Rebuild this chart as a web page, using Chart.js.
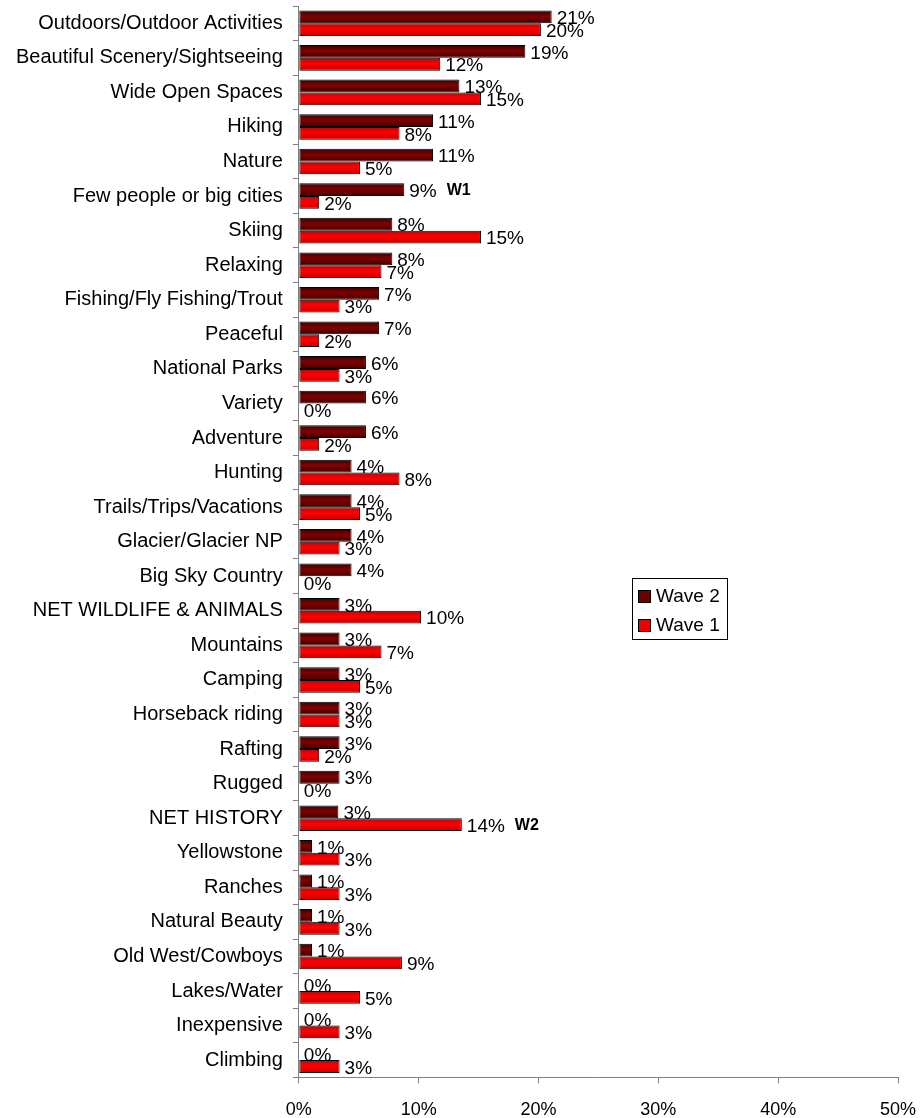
<!DOCTYPE html>
<html>
<head>
<meta charset="utf-8">
<script src="https://cdn.jsdelivr.net/npm/chart.js@4.4.0/dist/chart.umd.min.js"></script>
<style>
  html, body { margin: 0; padding: 0; background: #fff; }
  #wrap { position: relative; width: 920px; height: 1118px; }
</style>
</head>
<body>
<div id="wrap"><canvas id="chart"></canvas></div>
<script>
// categories, top to bottom
const categories = [
    "Outdoors/Outdoor Activities", "Beautiful Scenery/Sightseeing", "Wide Open Spaces", "Hiking",
    "Nature", "Few people or big cities", "Skiing", "Relaxing", "Fishing/Fly Fishing/Trout",
    "Peaceful", "National Parks", "Variety", "Adventure", "Hunting", "Trails/Trips/Vacations",
    "Glacier/Glacier NP", "Big Sky Country", "NET WILDLIFE & ANIMALS", "Mountains", "Camping",
    "Horseback riding", "Rafting", "Rugged", "NET HISTORY", "Yellowstone", "Ranches",
    "Natural Beauty", "Old West/Cowboys", "Lakes/Water", "Inexpensive", "Climbing"
];
// percent values
const wave2 = [21.1, 18.9, 13.4, 11.2, 11.2, 8.8, 7.8, 7.8, 6.7, 6.7, 5.6, 5.6, 5.6, 4.4, 4.4,
    4.4, 4.4, 3.4, 3.4, 3.4, 3.4, 3.4, 3.4, 3.3, 1.1, 1.1, 1.1, 1.1, 0, 0, 0];
const wave1 = [20.2, 11.8, 15.2, 8.4, 5.1, 1.7, 15.2, 6.9, 3.4, 1.7, 3.4, 0, 1.7, 8.4, 5.1,
    3.4, 0, 10.2, 6.9, 5.1, 3.4, 1.7, 0, 13.6, 3.4, 3.4, 3.4, 8.6, 5.1, 3.4, 3.4];
const seriesNames = ["Wave 2", "Wave 1"];
const xTicks = [0, 10, 20, 30, 40, 50];
// bold notes next to some labels: [category index, series index, text]
const notes = [[5, 0, "W1"], [23, 1, "W2"]];

const FONT = "'Liberation Sans', Arial, sans-serif";
const catPct = 0.74;

function barGradient(ctx, dsIndex, dark, light) {
    const chart = ctx.chart;
    const y = chart.scales.y;
    if (!y || ctx.dataIndex === undefined) return light;
    const c = y.getPixelForValue(ctx.dataIndex);
    const band = Math.abs(y.getPixelForValue(1) - y.getPixelForValue(0));
    if (!isFinite(c) || !isFinite(band) || band === 0) return light;
    const h = band * catPct / 2;
    const top = dsIndex === 0 ? c - h : c;
    const g = chart.ctx.createLinearGradient(0, top, 0, top + h);
    g.addColorStop(0, dark);
    g.addColorStop(0.45, light);
    g.addColorStop(1, dark);
    return g;
}

// drop the half-label paddings chart.js adds around the axes
function noEdgePadding(scale) {
    scale.paddingTop = 0;
    scale.paddingBottom = 0;
    scale.paddingLeft = 0;
    scale.paddingRight = 0;
}

const valueLabels = {
    id: "valueLabels",
    afterDatasetsDraw(chart) {
        const ctx = chart.ctx;
        ctx.save();
        ctx.fillStyle = "#000";
        ctx.textBaseline = "middle";
        ctx.textAlign = "left";
        chart.data.datasets.forEach((ds, di) => {
            const meta = chart.getDatasetMeta(di);
            meta.data.forEach((bar, i) => {
                const txt = Math.round(ds.data[i]) + "%";
                ctx.font = "19px " + FONT;
                ctx.fillText(txt, bar.x + 5, bar.y + 2);
                notes.forEach(n => {
                    if (n[0] === i && n[1] === di) {
                        const w = ctx.measureText(txt).width;
                        ctx.font = "bold 16px " + FONT;
                        ctx.fillText(n[2], bar.x + 5 + w + 10, bar.y + 1);
                    }
                });
            });
        });
        ctx.restore();
    }
};

const boxLegend = {
    id: "boxLegend",
    afterDraw(chart) {
        const ctx = chart.ctx;
        const x = 632, y = 578, w = 95, h = 61;
        ctx.save();
        ctx.strokeStyle = "#000";
        ctx.lineWidth = 1;
        ctx.strokeRect(x + 0.5, y + 0.5, w, h);
        ctx.font = "19px " + FONT;
        ctx.textBaseline = "middle";
        const fills = ["#6a0000", "#ee0000"];
        seriesNames.forEach((name, i) => {
            const cy = y + 18 + i * 29;
            ctx.fillStyle = fills[i];
            ctx.fillRect(x + 6, cy - 6, 13, 13);
            ctx.strokeRect(x + 6.5, cy - 5.5, 12, 12);
            ctx.fillStyle = "#000";
            ctx.fillText(name, x + 24, cy + 1);
        });
        ctx.restore();
    }
};

new Chart(document.getElementById("chart"), {
    type: "bar",
    data: {
        labels: categories,
        datasets: [{
            label: seriesNames[0],
            data: wave2,
            backgroundColor: c => barGradient(c, 0, "#3a0000", "#820000"),
            borderColor: "#000",
            borderWidth: 1,
            borderSkipped: false,
            categoryPercentage: catPct,
            barPercentage: 1
        }, {
            label: seriesNames[1],
            data: wave1,
            backgroundColor: c => barGradient(c, 1, "#c00000", "#ff0000"),
            borderColor: "#000",
            borderWidth: 1,
            borderSkipped: false,
            categoryPercentage: catPct,
            barPercentage: 1
        }]
    },
    options: {
        indexAxis: "y",
        responsive: true,
        maintainAspectRatio: false,
        animation: false,
        layout: { padding: { left: 6, right: 22, top: 6, bottom: -19 } },
        plugins: {
            legend: { display: false },
            tooltip: { enabled: false }
        },
        scales: {
            x: {
                min: 0,
                max: 50,
                afterBuildTicks: axis => { axis.ticks = xTicks.map(v => ({ value: v })); },
                afterFit: noEdgePadding,
                ticks: {
                    color: "#000",
                    font: { family: FONT, size: 18 },
                    padding: 16,
                    maxRotation: 0,
                    callback: v => v + "%"
                },
                grid: {
                    drawOnChartArea: false,
                    drawTicks: true,
                    tickLength: 6,
                    color: "#808080"
                },
                border: { color: "#808080", width: 1 }
            },
            y: {
                afterFit: noEdgePadding,
                ticks: {
                    color: "#000",
                    font: { family: FONT, size: 20 },
                    padding: 10,
                    autoSkip: false
                },
                grid: {
                    offset: true,
                    drawOnChartArea: false,
                    drawTicks: true,
                    tickLength: 6,
                    color: "#808080"
                },
                border: { color: "#808080", width: 1 }
            }
        }
    },
    plugins: [valueLabels, boxLegend]
});
</script>
</body>
</html>
